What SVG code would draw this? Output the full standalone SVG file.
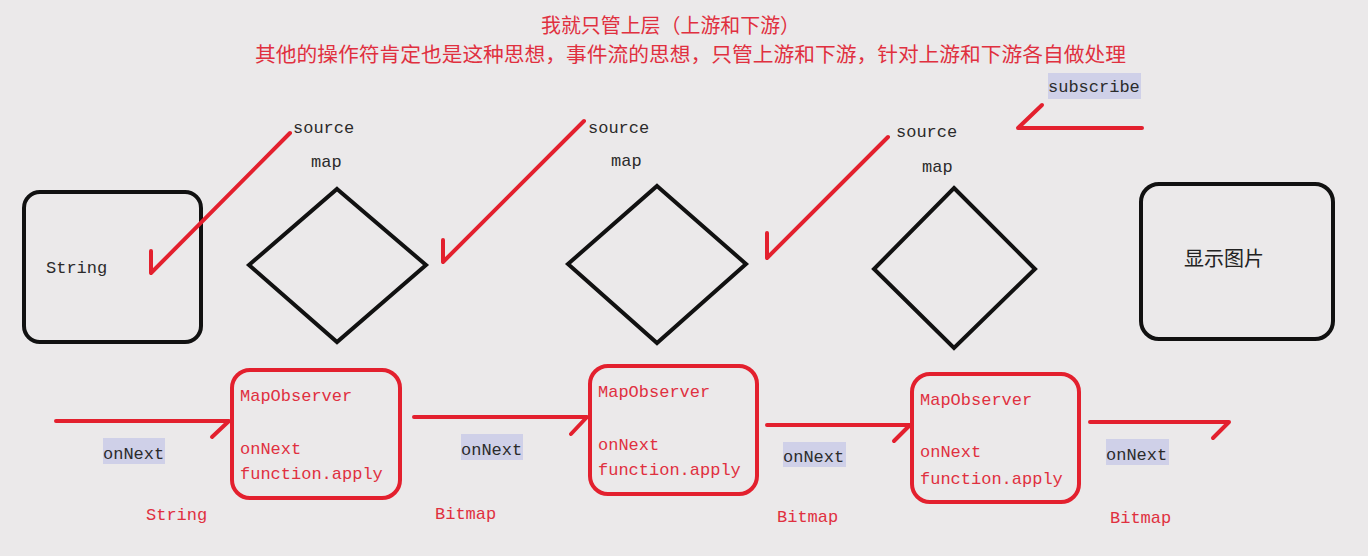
<svg xmlns="http://www.w3.org/2000/svg" width="1368" height="556" viewBox="0 0 1368 556">
<defs>
<style>
.bg{fill:#ebe9ea}
.title{font-family:"Noto Sans CJK SC","Noto Sans",sans-serif;font-size:20px;fill:#e0303f}
.mono{font-family:"Liberation Mono","DejaVu Sans Mono",monospace;font-size:17px}
.dark{fill:#2b2b2b}
.red{fill:#e0303f}
.blk{fill:none;stroke:#111;stroke-width:4;stroke-linejoin:miter}
.rbox{fill:none;stroke:#e3202e;stroke-width:4}
.rline{fill:none;stroke:#e3202e;stroke-width:4;stroke-linecap:round;stroke-linejoin:round}
.hl{fill:#cfd0e8}
.cjk{font-family:"Noto Sans CJK SC","Noto Sans",sans-serif;font-size:20px;fill:#222}
</style>
</defs>
<rect class="bg" x="0" y="0" width="1368" height="556"/>

<g id="title">
<text class="title" x="541" y="33" textLength="259" lengthAdjust="spacingAndGlyphs">我就只管上层（上游和下游）</text>
<text class="title" x="255" y="62" textLength="871" lengthAdjust="spacingAndGlyphs">其他的操作符肯定也是这种思想，事件流的思想，只管上游和下游，针对上游和下游各自做处理</text>
</g>

<g id="node-string">
<rect class="blk" x="24" y="192" width="177" height="150" rx="16"/>
<text class="mono dark" x="46" y="273">String</text>
</g>

<g id="node-map1">
<polygon class="blk" points="337,189 426,265 337,342 249,265"/>
<text class="mono dark" x="293" y="133">source</text>
<text class="mono dark" x="311" y="167">map</text>
</g>

<g id="node-map2">
<polygon class="blk" points="657,186 746,264 657,343 568,264"/>
<text class="mono dark" x="588" y="133">source</text>
<text class="mono dark" x="611" y="166">map</text>
</g>

<g id="node-map3">
<polygon class="blk" points="954,188 1035,269 954,348 874,269"/>
<text class="mono dark" x="896" y="137">source</text>
<text class="mono dark" x="922" y="172">map</text>
</g>

<g id="node-display">
<rect class="blk" x="1141" y="184" width="192" height="155" rx="18"/>
<text class="cjk" x="1184" y="266">显示图片</text>
</g>

<g id="subscribe-label">
<rect class="hl" x="1048" y="73" width="93" height="26"/>
<text class="mono dark" x="1048" y="92">subscribe</text>
</g>

<g id="observer1">
<rect class="rbox" x="232" y="370" width="168" height="128" rx="18"/>
<text class="mono red" x="240" y="401">MapObserver</text>
<text class="mono red" x="240" y="454">onNext</text>
<text class="mono red" x="240" y="479">function.apply</text>
</g>

<g id="observer2">
<rect class="rbox" x="590" y="366" width="167" height="128" rx="18"/>
<text class="mono red" x="598" y="397">MapObserver</text>
<text class="mono red" x="598" y="450">onNext</text>
<text class="mono red" x="598" y="475">function.apply</text>
</g>

<g id="observer3">
<rect class="rbox" x="912" y="374" width="167" height="128" rx="18"/>
<text class="mono red" x="920" y="405">MapObserver</text>
<text class="mono red" x="920" y="457">onNext</text>
<text class="mono red" x="920" y="484">function.apply</text>
</g>

<g id="connectors">
<path class="rline" d="M290,133 L151,273 L151,251"/>
<path class="rline" d="M584,121 L443,262 L443,240"/>
<path class="rline" d="M888,137 L767,258 L767,233"/>
<path class="rline" d="M1142,128 L1018,128 L1042,105"/>
<path class="rline" d="M56,421 L229,421 L212,437"/>
<path class="rline" d="M414,417 L587,417 L571,434"/>
<path class="rline" d="M767,425 L910,425 L894,441"/>
<path class="rline" d="M1090,422 L1229,422 L1213,438"/>
</g>

<g id="edge-labels">
<rect class="hl" x="103" y="438" width="62" height="26"/>
<text class="mono dark" x="103" y="459">onNext</text>
<rect class="hl" x="461" y="434" width="62" height="26"/>
<text class="mono dark" x="461" y="455">onNext</text>
<rect class="hl" x="783" y="442" width="63" height="25"/>
<text class="mono dark" x="783" y="462">onNext</text>
<rect class="hl" x="1106" y="439" width="63" height="26"/>
<text class="mono dark" x="1106" y="460">onNext</text>
<text class="mono red" x="146" y="520">String</text>
<text class="mono red" x="435" y="519">Bitmap</text>
<text class="mono red" x="777" y="522">Bitmap</text>
<text class="mono red" x="1110" y="523">Bitmap</text>
</g>
</svg>
